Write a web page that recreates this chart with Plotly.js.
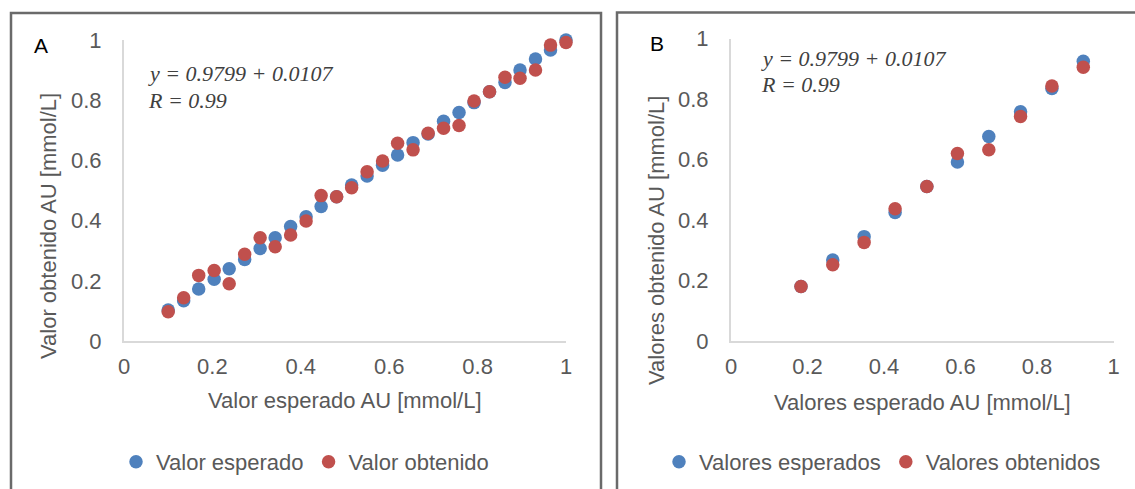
<!DOCTYPE html>
<html>
<head>
<meta charset="utf-8">
<script src="https://cdn.plot.ly/plotly-3.0.1.min.js"></script>
<style>
html,body{margin:0;padding:0;background:#fff;}
#chart{width:1135px;height:489px;}
</style>
</head>
<body>
<div id="chart"></div>
<script>
// ---- Panel A data ----
const xA = [0.100, 0.135, 0.169, 0.204, 0.238, 0.273, 0.308, 0.342, 0.377, 0.412, 0.446, 0.481, 0.515, 0.550, 0.585, 0.619, 0.654, 0.688, 0.723, 0.758, 0.792, 0.827, 0.862, 0.896, 0.931, 0.965, 1.000];
const esperadoA = [0.103, 0.134, 0.173, 0.205, 0.240, 0.271, 0.307, 0.343, 0.380, 0.413, 0.447, 0.479, 0.518, 0.548, 0.584, 0.618, 0.659, 0.688, 0.730, 0.759, 0.792, 0.828, 0.859, 0.900, 0.937, 0.967, 1.000];
const obtenidoA = [0.097, 0.144, 0.218, 0.234, 0.190, 0.288, 0.343, 0.313, 0.352, 0.399, 0.483, 0.479, 0.509, 0.562, 0.598, 0.657, 0.635, 0.690, 0.707, 0.716, 0.797, 0.828, 0.876, 0.873, 0.900, 0.983, 0.992];
// ---- Panel B data ----
const xB = [0.183, 0.266, 0.348, 0.429, 0.512, 0.592, 0.674, 0.757, 0.839, 0.921];
const esperadoB = [0.180, 0.268, 0.345, 0.425, 0.511, 0.592, 0.676, 0.758, 0.835, 0.925];
const obtenidoB = [0.180, 0.252, 0.326, 0.437, 0.511, 0.620, 0.632, 0.742, 0.843, 0.905];
// ---- Texts ----
const namesA = ["Valor esperado", "Valor obtenido"];
const namesB = ["Valores esperados", "Valores obtenidos"];
const xTitleA = "Valor esperado AU [mmol/L]";
const yTitleA = "Valor obtenido AU [mmol/L]";
const xTitleB = "Valores esperado AU [mmol/L]";
const yTitleB = "Valores obtenido AU [mmol/L]";
const eqLine1 = "y = 0.9799 + 0.0107";
const eqLine2 = "R = 0.99";
const tickVals = [0, 0.2, 0.4, 0.6, 0.8, 1];

const W = 1135, H = 489;
const px = v => v / W;
const py = v => 1 - v / H;
const BLUE = "#4F81BD", RED = "#C0504D";
const GRAY = "#595959";
const FONT = "Liberation Sans, Arial, sans-serif";

function sc(x, y, name, color, xa, ya, leg) {
  return {x: x, y: y, name: name, type: "scatter", mode: "markers",
    xaxis: xa, yaxis: ya, legend: leg, cliponaxis: false,
    marker: {color: color, size: 13.5}, hoverinfo: "x+y"};
}
const data = [
  sc(xA, esperadoA, namesA[0], BLUE, "x", "y", "legend"),
  sc(xA, obtenidoA, namesA[1], RED, "x", "y", "legend"),
  sc(xB, esperadoB, namesB[0], BLUE, "x2", "y2", "legend2"),
  sc(xB, obtenidoB, namesB[1], RED, "x2", "y2", "legend2")
];

function axis(domain, anchor, isY) {
  return {domain: domain, anchor: anchor, range: [0, 1], tickvals: tickVals,
    showgrid: false, zeroline: false, showline: true, linecolor: "#d9d9d9", linewidth: 2,
    ticks: "", ticklabelstandoff: isY ? 16 : 5,
    tickfont: {family: FONT, size: 22, color: GRAY}, fixedrange: true};
}

function ann(x, y, text, opts) {
  return Object.assign({xref: "paper", yref: "paper", x: px(x), y: py(y), text: text,
    showarrow: false, xanchor: "center", yanchor: "middle",
    font: {family: FONT, size: 22, color: GRAY}}, opts || {});
}
const eqFont = {family: "Liberation Serif, Times New Roman, serif", size: 22, color: "#404040"};

const layout = {
  width: W, height: H,
  margin: {l: 0, r: 0, t: 0, b: 0},
  paper_bgcolor: "#fff", plot_bgcolor: "rgba(0,0,0,0)",
  xaxis: axis([px(124), px(566)], "y", false),
  yaxis: axis([py(341), py(40)], "x", true),
  xaxis2: axis([px(731), px(1113.5)], "y2", false),
  yaxis2: axis([py(341), py(38.5)], "x2", true),
  legend: {orientation: "h", x: px(116), y: py(462), xanchor: "left", yanchor: "middle",
    font: {family: FONT, size: 22, color: GRAY}, bgcolor: "rgba(0,0,0,0)", itemclick: false},
  legend2: {orientation: "h", x: px(659), y: py(462), xanchor: "left", yanchor: "middle",
    font: {family: FONT, size: 22, color: GRAY}, bgcolor: "rgba(0,0,0,0)", itemclick: false},
  showlegend: true,
  annotations: [
    ann(345, 400, xTitleA),
    ann(48, 226, yTitleA, {textangle: -90}),
    ann(922, 402, xTitleB),
    ann(56, 241, yTitleB, {textangle: -90, x: px(656)}),
    ann(146, 74, "<i>" + eqLine1 + "</i>", {xanchor: "left", font: eqFont}),
    ann(146, 100, "<i>" + eqLine2 + "</i>", {xanchor: "left", font: eqFont}),
    ann(759, 58, "<i>" + eqLine1 + "</i>", {xanchor: "left", font: eqFont}),
    ann(759, 84, "<i>" + eqLine2 + "</i>", {xanchor: "left", font: eqFont}),
    ann(41, 46, "A", {font: {family: FONT, size: 21, color: "#000"}}),
    ann(657, 43, "B", {font: {family: FONT, size: 21, color: "#000"}})
  ],
  shapes: [
    {type: "rect", xref: "paper", yref: "paper", x0: px(11), x1: px(601), y0: -0.1, y1: py(13),
      line: {color: "#6a6a6a", width: 2.5}, fillcolor: "rgba(0,0,0,0)", layer: "below"},
    {type: "rect", xref: "paper", yref: "paper", x0: px(617), x1: 1.1, y0: -0.1, y1: py(12.5),
      line: {color: "#6a6a6a", width: 2.5}, fillcolor: "rgba(0,0,0,0)", layer: "below"}
  ]
};

Plotly.newPlot("chart", data, layout, {displayModeBar: false, staticPlot: true});
</script>
</body>
</html>
